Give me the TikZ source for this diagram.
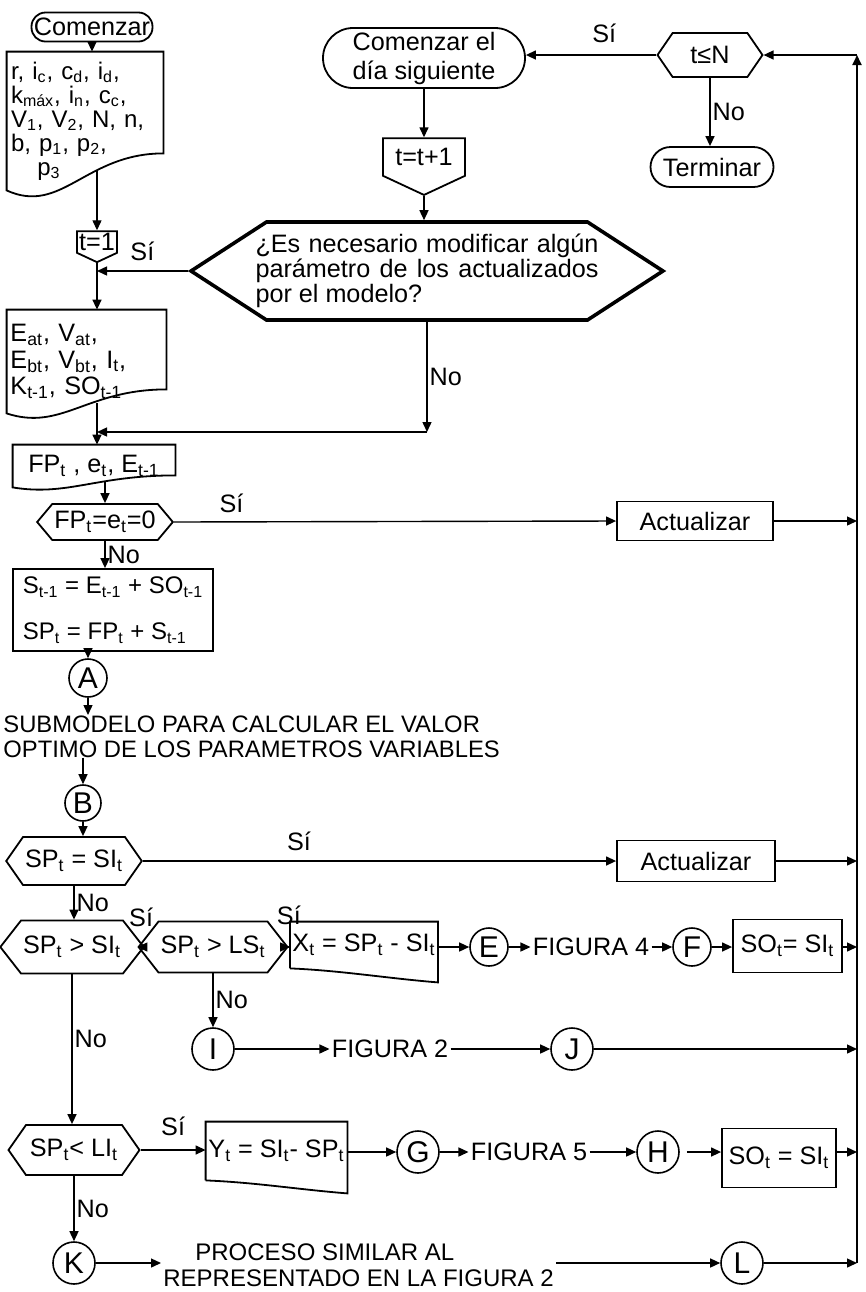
\documentclass[tikz,border=0pt]{standalone}
\usepackage{fontspec}
\setmainfont{Liberation Sans}
\usetikzlibrary{arrows.meta,shapes.symbols,calc}
\newcommand{\low}[1]{\textsubscript{#1}}

\begin{document}
\begin{tikzpicture}[x=0.5pt, y=-0.5pt,
    font=\fontsize{12.6}{14}\selectfont,
    every node/.style={inner sep=1pt},
    arr/.style={-{Triangle[length=5pt,width=4.5pt]}, line width=0.7pt},
    box/.style={draw, rectangle, line width=0.9pt},
    capsule/.style={draw, rectangle, rounded corners=#1, line width=0.9pt},
    hexa/.style={draw, shape=signal, signal to=west and east, signal pointer angle=#1, line width=0.9pt},
    drop/.style={draw, shape=signal, signal to=south, signal pointer angle=130, line width=0.9pt, inner xsep=0pt},
    docu/.style={line width=0.9pt},
    conn/.style={draw, circle, minimum size=#1, inner sep=0pt, line width=0.8pt, font=\fontsize{15}{15}\selectfont},
  ]
  \useasboundingbox (0,0) rectangle (866,1292);

  % Inicio y datos
  \node[capsule=7pt, minimum width=60.5pt, minimum height=14.5pt, inner xsep=0pt] (start) at (92,27) {Comenzar};
  \node[minimum width=78pt, minimum height=69pt, text width=74pt, align=left,
        font=\fontsize{12}{12}\selectfont] (datos) at (85,121)
    {r, i\low{c}, c\low{d}, i\low{d},\\ k\low{máx}, i\low{n}, c\low{c},\\ V\low{1}, V\low{2}, N, n,\\ b, p\low{1}, p\low{2},\\ \hspace{1.1em}p\low{3}};
  \draw[docu] (datos.north east) -- (datos.north west) -- (datos.south west)
    .. controls +(55,25) and +(-78,0) .. ($(datos.south east)+(0,-37)$) coordinate[pos=0.63] (datos-w) -- cycle;
  \node[drop, minimum width=20pt, minimum height=15pt] (t1) at (97,242) {t=1};

  \node[minimum width=79.5pt, minimum height=51.5pt, text width=76pt, align=left,
        font=\fontsize{12.6}{13.25}\selectfont] (eat) at (86.5,361.5)
    {E\low{at}, V\low{at},\\ E\low{bt}, V\low{bt}, I\low{t},\\ K\low{t-1}, SO\low{t-1}};
  \draw[docu] (eat.north east) -- (eat.north west) -- (eat.south west)
    .. controls +(55,18) and +(-80,0) .. ($(eat.south east)+(0,-24)$) coordinate[pos=0.6] (eat-w) -- cycle;

  \node[minimum width=81pt, minimum height=21pt] (fp) at (94,466) {FP\low{t} , e\low{t}, E\low{t-1}};
  \draw[docu] (fp.north east) -- (fp.north west) -- (fp.south west)
    .. controls +(55,9) and +(-80,0) .. ($(fp.south east)+(0,-12)$) coordinate[pos=0.6] (fp-w) -- cycle;

  % Ciclo diario
  \node[capsule=15pt, minimum width=101pt, minimum height=30pt, align=center,
        font=\fontsize{12.6}{14.5}\selectfont] (dia) at (424,58) {Comenzar el\\ día siguiente};
  \node[drop, minimum width=41pt, minimum height=25.5pt] (tt) at (424,157) {t=t+1};
  \node[hexa=66, line width=1.8pt, minimum width=235.5pt, minimum height=49pt, inner xsep=-5.5pt, align=left,
        font=\fontsize{12.6}{12.5}\selectfont] (modif) at (427,271)
    {\makebox[171.5pt][s]{¿Es necesario modificar algún}\\ \makebox[171.5pt][s]{parámetro de los actualizados}\\ por el modelo?};
  \node[hexa=111, minimum width=52.5pt, minimum height=22pt] (tN) at (710,55) {t≤N};
  \node[capsule=10pt, minimum width=61.5pt, minimum height=20pt] (term) at (712,167) {Terminar};
  \coordinate (noy) at (0,432);
  \coordinate (ret-top) at (857,55);
  \coordinate (ret-bot) at (857,1263);

  % Balance
  \node[hexa=100, minimum width=67.5pt, minimum height=18pt] (fpq) at (105,522) {FP\low{t}=e\low{t}=0};
  \node[box, minimum width=78pt, minimum height=19.5pt] (act1) at (695,521) {Actualizar};
  \node[box, minimum width=100pt, minimum height=41pt, align=left, font=\fontsize{12}{14}\selectfont] (sbox) at (113,610)
    {S\low{t-1} = E\low{t-1} + SO\low{t-1}\\[9pt] SP\low{t} = FP\low{t} + S\low{t-1}};
  \node[conn=19pt] (nA) at (88,678) {A};
  \node[anchor=north west, inner sep=0pt, align=left, font=\fontsize{11.9}{12.5}\selectfont] (sub) at (3,715)
    {SUBMODELO PARA CALCULAR EL VALOR\\ OPTIMO DE LOS PARAMETROS VARIABLES};
  \node[conn=18pt] (nB) at (83,803) {B};

  % Comparaciones
  \node[hexa=110, minimum width=65.5pt, minimum height=24pt] (sp1) at (74,861) {SP\low{t} = SI\low{t}};
  \node[box, minimum width=79pt, minimum height=20.5pt] (act2) at (696,861) {Actualizar};
  \node[hexa=104, minimum width=65pt, minimum height=26.5pt] (sp2) at (72,947) {SP\low{t} > SI\low{t}};
  \node[hexa=104, minimum width=64.5pt, minimum height=25.5pt] (ls) at (213,947) {SP\low{t} > LS\low{t}};
  \node[minimum width=71pt, minimum height=23pt] (xd) at (364,945) {X\low{t} = SP\low{t} - SI\low{t}};
  \draw[docu] (xd.south west) -- (xd.north west) -- (xd.north east) -- ($(xd.south east)+(0,14)$)
    .. controls +(-50,-4) and +(50,2) .. (xd.south west);
  \node[conn=19pt] (nE) at (489,947) {E};
  \node (fig4) at (591,947) {FIGURA 4};
  \node[conn=19pt] (nF) at (692,947) {F};
  \node[box, minimum width=54.5pt, minimum height=26.5pt] (so1) at (787.5,946) {SO\low{t}= SI\low{t}};

  \node[conn=21pt] (nI) at (213,1049) {I};
  \node (fig2) at (390,1049) {FIGURA 2};
  \node[conn=21pt] (nJ) at (572,1049) {J};

  \node[hexa=110, minimum width=65.5pt, minimum height=25pt] (sp3) at (74,1150) {SP\low{t}< LI\low{t}};
  \node[minimum width=70.5pt, minimum height=29pt] (yd) at (276.5,1151) {Y\low{t} = SI\low{t}- SP\low{t}};
  \draw[docu] (yd.south west) -- (yd.north west) -- (yd.north east) -- ($(yd.south east)+(0,13)$)
    .. controls +(-50,-4) and +(50,2) .. (yd.south west);
  \node[conn=21pt] (nG) at (418,1152) {G};
  \node (fig5) at (529,1152) {FIGURA 5};
  \node[conn=21pt] (nH) at (658,1152) {H};
  \node[box, minimum width=57pt, minimum height=29.5pt] (so2) at (779,1158) {SO\low{t} = SI\low{t}};

  \node[conn=21pt] (nK) at (74,1263) {K};
  \node[anchor=west, align=left, font=\fontsize{12}{13}\selectfont] (proc) at (161,1265)
    {\hspace{16pt}PROCESO SIMILAR AL\\ REPRESENTADO EN LA FIGURA 2};
  \node[conn=21pt] (nL) at (742,1263) {L};

  % Conexiones parte superior
  \draw[arr] (start.south) -- (start.south |- datos.north);
  \draw[arr] (t1.north |- datos-w) -- (t1.north);
  \draw[arr] (t1.south) -- (t1.south |- eat.north);
  \draw[arr] (modif.west) -- (modif.west -| t1.south) node[midway, above=4pt] {Sí};
  \draw[arr] (modif.south) -- (modif.south |- noy) node[midway, right] {No};
  \draw[arr] (modif.south |- noy) -- (t1.south |- noy);
  \draw[arr] (t1.south |- eat-w) -- (t1.south |- fp.north);
  \draw[arr] (fpq.north |- fp-w) -- (fpq.north);
  \draw[arr] (dia.south) -- (tt.north);
  \draw[arr] (tt.south) -- (tt.south |- modif.north);
  \draw[arr] (tN.west) -- (tN.west -| dia.east) node[pos=0.4, above=5pt] {Sí};
  \draw[arr] (tN.south) -- (tN.south |- term.north) node[midway, right] {No};

  % Conexiones parte central
  \draw[arr] (fpq.east) -- (act1.west) node[pos=0.13, above=3pt] {Sí};
  \draw[arr] (fpq.south) -- (fpq.south |- sbox.north) node[midway, right] {No};
  \draw[arr] (nA.north |- sbox.south) -- (nA.north);
  \draw[arr] (nA.south) -- (nA.south |- sub.north);
  \draw[arr] (nB.north |- sub.south) -- (nB.north);
  \draw[arr] (nB.south) -- (nB.south |- sp1.north);
  \draw[arr] (sp1.east) -- (act2.west) node[pos=0.33, above=4pt] {Sí};
  \draw[arr] (sp1.south) -- (sp1.south |- sp2.north) node[midway, right] {No};
  \draw[arr] (sp2.east) -- (ls.west) node[midway, above=9pt] {Sí};
  \draw[arr] (ls.east) -- (xd.west |- ls.east) node[pos=0.2, above=10pt] {Sí};
  \draw[arr] (xd.east |- nE) -- (nE);
  \draw[arr] (nE) -- (fig4);
  \draw[arr] (fig4) -- (nF);
  \draw[arr] (nF) -- (nF -| so1.west);
  \draw[arr] (ls.south) -- (nI.north) node[midway, right] {No};
  \draw[arr] (nI) -- (fig2);
  \draw[arr] (fig2) -- (nJ);

  % Conexiones parte inferior
  \draw[arr] (sp2.south) -- (sp2.south |- sp3.north) node[pos=0.43, right] {No};
  \draw[arr] (sp3.east) -- (yd.west |- sp3.east) node[midway, above=6pt] {Sí};
  \draw[arr] (yd.east |- nG) -- (nG);
  \draw[arr] (nG) -- (fig5);
  \draw[arr] (fig5) -- (nH);
  \draw[arr, shorten <=3.5pt] (nH.east) -- (nH.east -| so2.west);
  \draw[arr] (sp3.south) -- (sp3.south |- nK.north) node[midway, right] {No};
  \draw[arr] (nK) -- (proc.west |- nK);
  \draw[arr] (proc.east |- nL) -- (nL);

  % Retorno
  \draw[arr] (act1.east) -- (act1.east -| ret-top);
  \draw[arr] (act2.east) -- (act2.east -| ret-top);
  \draw[arr] (so1.east |- nF) -- (nF -| ret-top);
  \draw[arr] (nJ) -- (nJ -| ret-top);
  \draw[arr] (so2.east |- nH) -- (nH -| ret-top);
  \draw[arr] (nL) -- (nL -| ret-bot);
  \draw[arr, line width=0.9pt] (ret-bot) -- (ret-top);
  \draw[arr] (ret-top) -- (tN.east);
\end{tikzpicture}
\end{document}
